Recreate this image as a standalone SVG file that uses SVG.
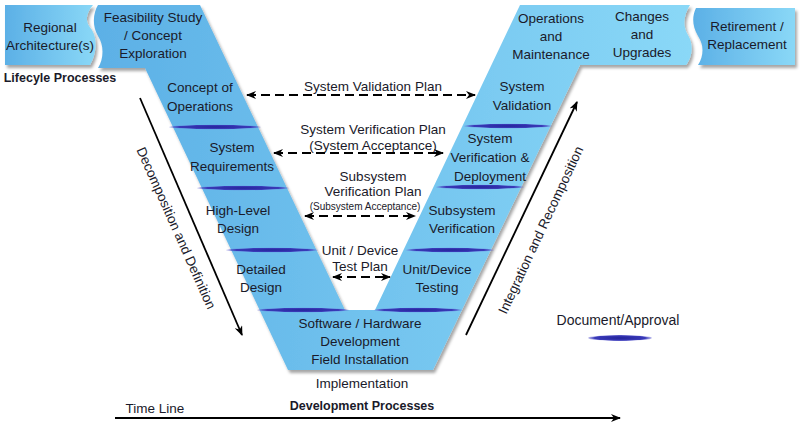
<svg xmlns="http://www.w3.org/2000/svg" width="800" height="430" viewBox="0 0 800 430">
<defs>
<linearGradient id="g" x1="0" y1="0" x2="1" y2="0"><stop offset="0" stop-color="#5cb0e6"/><stop offset="1" stop-color="#8ad8f7"/></linearGradient>
<radialGradient id="band"><stop offset="0" stop-color="#23239a"/><stop offset="0.8" stop-color="#3a3ab8"/><stop offset="1" stop-color="#5a5ad0" stop-opacity="0.4"/></radialGradient>
<marker id="ah" markerWidth="10" markerHeight="8" refX="9" refY="4" orient="auto-start-reverse" markerUnits="userSpaceOnUse"><path d="M0,0 L10,4 L0,8 L3,4 z" fill="#000"/></marker>
<filter id="sh"><feDropShadow dx="2" dy="3" stdDeviation="1.5" flood-color="#000" flood-opacity="0.35"/></filter>
</defs>
<style>
text{font-family:"Liberation Sans",Arial,sans-serif;font-size:13.5px;fill:#1a1a2a;text-anchor:middle}
.b{font-weight:bold;font-size:12.5px}
.s{font-size:10px}
.d{stroke:#000;stroke-width:1.8;stroke-dasharray:9,5;fill:none}
.l{stroke:#000;stroke-width:1.8;fill:none}
</style>
<g id="shapes" filter="url(#sh)">
<path id="regional" d="M5,5 H93 C85,15 85,22 92,30 C98,40 96,55 90,65 H5 Z" fill="url(#g)"/>
<path id="v" d="M98,5 H200 L345,310 H375 L520,5 H690 C684,15 682,25 688,35 C694,45 692,58 686,65 H580 L433,370 H288 L145,68 H98 C104,58 104,45 98,36 C92,26 93,13 98,5 Z" fill="url(#g)"/>
<path id="retire" d="M696,8 H795 V65 H698 C704,55 704,45 698,36 C692,26 692,16 696,8 Z" fill="url(#g)"/>
</g>
<g id="bands">
<ellipse cx="215" cy="127" rx="46" ry="2.2" fill="url(#band)"/>
<ellipse cx="243" cy="188" rx="46" ry="2.2" fill="url(#band)"/>
<ellipse cx="272" cy="250" rx="46" ry="2.2" fill="url(#band)"/>
<ellipse cx="303" cy="310" rx="46" ry="2.2" fill="url(#band)"/>
<ellipse cx="508" cy="126" rx="44" ry="2.2" fill="url(#band)"/>
<ellipse cx="480" cy="187" rx="44" ry="2.2" fill="url(#band)"/>
<ellipse cx="450" cy="250" rx="44" ry="2.2" fill="url(#band)"/>
<ellipse cx="418" cy="310" rx="44" ry="2.2" fill="url(#band)"/>
<ellipse cx="620" cy="338" rx="32" ry="3" fill="url(#band)"/>
</g>
<g id="labels">
<text x="50" y="32">Regional</text><text x="50" y="50">Architecture(s)</text>
<text x="153" y="22">Feasibility Study</text><text x="153" y="40">/ Concept</text><text x="153" y="58">Exploration</text>
<text x="60" y="82" class="b">Lifecyle Processes</text>
<text x="200" y="92">Concept of</text><text x="200" y="111">Operations</text>
<text x="232" y="152">System</text><text x="232" y="171">Requirements</text>
<text x="238" y="215">High-Level</text><text x="238" y="233">Design</text>
<text x="261" y="274">Detailed</text><text x="261" y="292">Design</text>
<text x="360" y="328">Software / Hardware</text><text x="360" y="346">Development</text><text x="360" y="364">Field Installation</text>
<text x="362" y="388">Implementation</text>
<text x="362" y="410" class="b">Development Processes</text>
<text x="155" y="413">Time Line</text>
<text x="551" y="23">Operations</text><text x="551" y="41">and</text><text x="551" y="59">Maintenance</text>
<text x="642" y="21">Changes</text><text x="642" y="39">and</text><text x="642" y="57">Upgrades</text>
<text x="747" y="31">Retirement /</text><text x="747" y="49">Replacement</text>
<text x="522" y="91">System</text><text x="522" y="110">Validation</text>
<text x="490" y="143">System</text><text x="490" y="162">Verification &amp;</text><text x="490" y="181">Deployment</text>
<text x="462" y="215">Subsystem</text><text x="462" y="233">Verification</text>
<text x="437" y="274">Unit/Device</text><text x="437" y="292">Testing</text>
<text x="373" y="91">System Validation Plan</text>
<text x="373" y="134">System Verification Plan</text><text x="373" y="150">(System Acceptance)</text>
<text x="373" y="181">Subsystem</text><text x="373" y="196">Verification Plan</text><text x="365" y="210" class="s">(Subsystem Acceptance)</text>
<text x="360" y="255">Unit / Device</text><text x="360" y="271">Test Plan</text>
<text x="618" y="325" style="font-size:14px">Document/Approval</text>
<text transform="translate(172,230) rotate(66)">Decomposition and Definition</text>
<text transform="translate(545,232) rotate(-65)">Integration and Recomposition</text>
</g>
<g id="connectors">
<line x1="247" y1="95" x2="475" y2="95" class="d" marker-start="url(#ah)" marker-end="url(#ah)"/>
<line x1="274" y1="153" x2="443" y2="153" class="d" marker-start="url(#ah)" marker-end="url(#ah)"/>
<line x1="305" y1="216" x2="415" y2="216" class="d" marker-start="url(#ah)" marker-end="url(#ah)"/>
<line x1="333" y1="277" x2="390" y2="277" class="d" marker-start="url(#ah)" marker-end="url(#ah)"/>
<line x1="140" y1="98" x2="242" y2="335" class="l" marker-end="url(#ah)"/>
<line x1="466" y1="335" x2="577" y2="102" class="l" marker-end="url(#ah)"/>
<line x1="115" y1="418" x2="620" y2="418" class="l" stroke-width="1.3" marker-end="url(#ah)"/>
</g>
</svg>
